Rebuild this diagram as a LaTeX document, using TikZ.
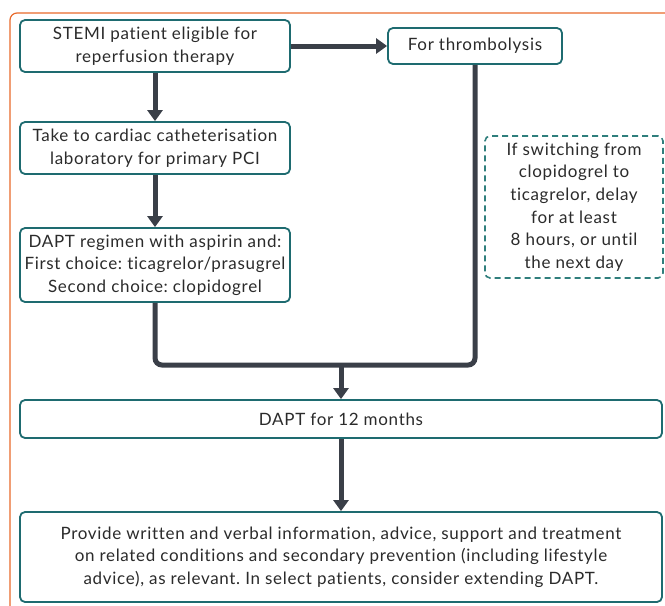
\documentclass[tikz,border=0pt]{standalone}
\usepackage{fontspec}
\setmainfont{Lato}[Ligatures=NoCommon,LetterSpace=4]
\usepackage{xcolor}
\definecolor{cTeal}{HTML}{1E6B70}
\definecolor{cNote}{HTML}{2F7E7C}
\definecolor{cFlow}{HTML}{3A3F48}
\definecolor{cFrame}{HTML}{E8692A}
\definecolor{cText}{HTML}{2B2B2B}
\usepackage{tikz}
\usetikzlibrary{positioning,arrows.meta}
\frenchspacing
\tikzset{
  node-box/.style={draw=cTeal,line width=1.8pt,rounded corners=5pt,fill=white,
    align=center,text=cText,inner sep=0pt,
    font=\fontsize{17}{22.7}\selectfont},
  node-note/.style={node-box,draw=cNote,line width=1.6pt,
    dash pattern=on 6pt off 4pt},
  arrow/.style={-{Triangle[width=15pt,length=11pt]},line width=5pt,draw=cFlow},
  flow-line/.style={line width=5pt,draw=cFlow,rounded corners=7pt},
  frame/.style={draw=cFrame,line width=1.2pt,rounded corners=7pt},
}

\begin{document}
\begin{tikzpicture}[x=1pt,y=-1pt]
  \useasboundingbox (0,0) rectangle (665,606);
  \draw[frame] (10,610) -- (10,13) -- (670,13);

  \node[node-box,minimum width=270pt,minimum height=52pt] (stemi) at (155,46)
    {STEMI patient eligible for\\reperfusion therapy};
  \node[node-box,minimum width=174pt,minimum height=36pt] (thrombo) at (475,46)
    {For thrombolysis};
  \node[node-box,minimum width=270pt,minimum height=52pt] (cathlab) at (155,148)
    {Take to cardiac catheterisation\\laboratory for primary PCI};
  \node[node-box,minimum width=270pt,minimum height=74pt] (regimen) at (155,265)
    {DAPT regimen with aspirin and:\\First choice: ticagrelor/prasugrel\\Second choice: clopidogrel};
  \node[node-note,minimum width=178pt,minimum height=142pt] (switch) at (574,207)
    {If switching from\\clopidogrel to\\ticagrelor, delay\\for at least\\8 hours, or until\\the next day};
  \node[node-box,minimum width=642pt,minimum height=38pt] (dapt) at (341,419)
    {DAPT for 12 months};
  \node[node-box,minimum width=642pt,minimum height=90pt] (advice) at (341,557)
    {Provide written and verbal information, advice, support and treatment\\
     on related conditions and secondary prevention (including lifestyle\\
     advice), as relevant. In select patients, consider extending DAPT.};

  \coordinate (join) at (341,365);
  \draw[arrow] (stemi) -- (thrombo);
  \draw[arrow] (stemi) -- (cathlab);
  \draw[arrow] (cathlab) -- (regimen);
  \draw[flow-line] (thrombo.south) |- (join) -| (regimen.south);
  \draw[arrow] (join) -- (dapt.north);
  \draw[arrow] (dapt) -- (advice);
\end{tikzpicture}
\end{document}
